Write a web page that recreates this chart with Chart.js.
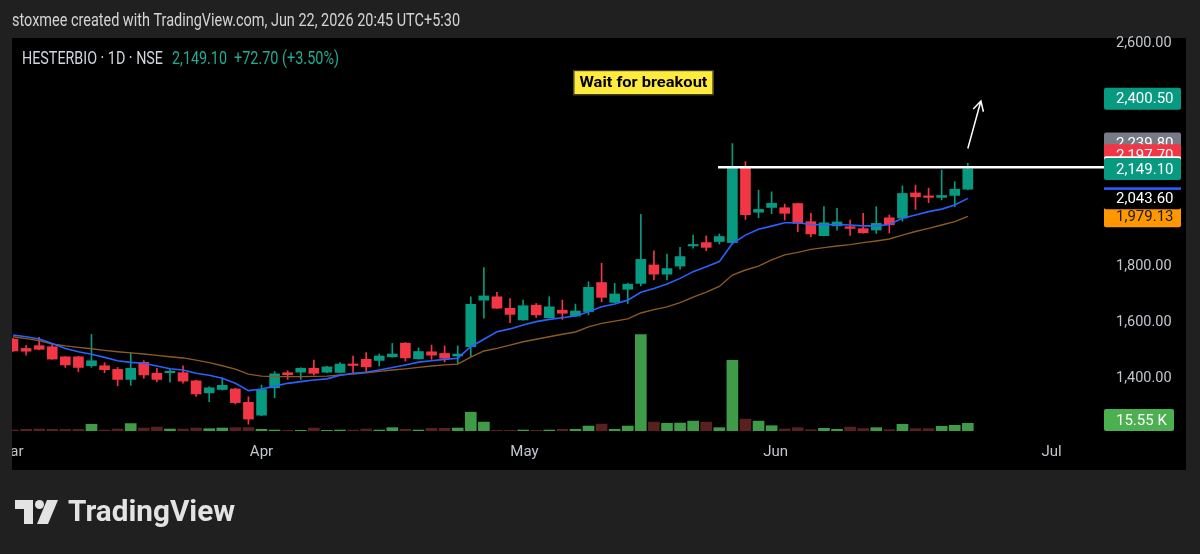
<!DOCTYPE html>
<html>
<head>
<meta charset="utf-8">
<title>HESTERBIO · 1D · NSE</title>
<script src="https://cdn.jsdelivr.net/npm/chart.js@4.4.1/dist/chart.umd.min.js"></script>
<style>
  html, body { margin: 0; padding: 0; background: #202020; overflow: hidden; }
  canvas { display: block; }
</style>
</head>
<body>
<canvas id="chart" width="1200" height="554"></canvas>
<script>
// daily bars, index 0 = first visible bar (mid March), 73 = Jun 22
const opens = [1539, 1506, 1516, 1512, 1476, 1476, 1444, 1444, 1431, 1395,
  1456, 1417, 1419, 1419, 1390, 1347, 1359, 1361, 1313, 1267,
  1365, 1419, 1421, 1435, 1421, 1420, 1450, 1467, 1463, 1476,
  1525, 1469, 1494, 1488, 1479, 1512, 1679, 1691, 1650, 1608,
  1661, 1616, 1643, 1622, 1638, 1742, 1671, 1718, 1739, 1805,
  1772, 1801, 1873, 1885, 1889, 1885, 2155, 1994, 2011, 2010,
  2025, 1960, 1910, 1945, 1942, 1935, 1930, 1974, 1973, 2063,
  2052, 2047, 2054, 2076.4];
const highs = [1542, 1517, 1546, 1520, 1477, 1478, 1556, 1455, 1438, 1491,
  1462, 1435, 1431, 1444, 1392, 1369, 1401, 1363, 1333, 1375,
  1423, 1426, 1437, 1464, 1442, 1455, 1479, 1491, 1486, 1524,
  1527, 1508, 1518, 1515, 1515, 1691, 1796, 1707, 1685, 1679,
  1667, 1691, 1679, 1665, 1745, 1811, 1739, 1740, 1986, 1856,
  1844, 1868, 1912, 1909, 1916, 2239.8, 2175, 2073, 2067, 2023,
  2026, 1990, 2014, 2008, 1966, 1990, 2014, 1984, 2088, 2091,
  2080, 2145, 2103, 2169];
const lows = [1495, 1482, 1502, 1467, 1438, 1423, 1438, 1419, 1372, 1374,
  1399, 1387, 1385, 1382, 1334, 1315, 1357, 1307, 1235, 1265,
  1329, 1395, 1395, 1411, 1419, 1419, 1417, 1420, 1443, 1475,
  1461, 1468, 1467, 1458, 1450, 1476, 1614, 1649, 1598, 1607,
  1617, 1616, 1610, 1621, 1626, 1673, 1670, 1667, 1730, 1751,
  1751, 1790, 1865, 1856, 1880, 1880, 1968, 1974, 1989, 1966,
  1924, 1906, 1909, 1930, 1911, 1919, 1918, 1920, 1962, 2004,
  2028, 2038, 2014, 2074];
const closes = [1497, 1496, 1503, 1468, 1447, 1438, 1462, 1430, 1395, 1435,
  1411, 1395, 1420, 1389, 1343, 1365, 1374, 1312, 1253, 1359,
  1415, 1412, 1435, 1417, 1440, 1450, 1445, 1440, 1479, 1486,
  1472, 1495, 1482, 1471, 1486, 1664, 1694, 1650, 1628, 1659,
  1626, 1655, 1632, 1640, 1725, 1689, 1701, 1736, 1825, 1772,
  1792, 1835, 1877, 1868, 1907, 2151, 1985, 2004, 2026, 1990,
  1954, 1916, 1956, 1959, 1936, 1920, 1954, 1949, 2061, 2049,
  2047, 2054, 2076.4, 2149.1];
// volume in thousands
const volumes = [2, 3.5, 4, 3.5, 3.5, 3.5, 13.5, 2, 4, 15,
  6, 8, 4, 4, 6, 4.7, 6, 6.7, 7, 3.5,
  2, 1.4, 1.4, 6, 1.4, 2, 2, 4, 2, 6.7,
  3.5, 2, 5.4, 5.4, 6, 38, 18, 1.4, 1.4, 2,
  1.4, 2, 3.5, 3.5, 10, 14, 3.5, 10, 195, 18,
  15.5, 16, 20, 18, 6.7, 143, 24, 20, 10.7, 4,
  6.7, 2.7, 5.4, 3.5, 8, 4.7, 6.7, 2.7, 13.5, 4.7,
  4.7, 9.5, 11.5, 15.55];
// moving averages (blue = fast, brown = slow)
const emaFast = [1554, 1548, 1540, 1524, 1506, 1494, 1485, 1474, 1462, 1456,
  1453, 1443, 1433, 1429, 1417, 1410, 1399, 1381, 1355, 1361,
  1371, 1381, 1387, 1393, 1397, 1410, 1417, 1421, 1429, 1438,
  1447, 1457, 1462, 1467, 1471, 1512, 1539, 1566, 1576, 1590,
  1602, 1610, 1616, 1622, 1637, 1655, 1665, 1679, 1707, 1721,
  1737, 1757, 1781, 1799, 1817, 1882, 1912, 1933, 1944, 1956,
  1956, 1950, 1949, 1950, 1948, 1945, 1945, 1950, 1972, 1984,
  1996, 2005, 2020, 2043.6];
const emaSlow = [1548, 1541, 1534, 1522, 1515, 1510, 1505, 1499, 1494, 1490,
  1486, 1481, 1476, 1472, 1464, 1455, 1444, 1432, 1414, 1407,
  1405, 1405, 1405, 1406, 1407, 1411, 1414, 1419, 1424, 1429,
  1433, 1438, 1443, 1447, 1450, 1475, 1497, 1506, 1518, 1530,
  1539, 1548, 1557, 1565, 1583, 1596, 1604, 1612, 1633, 1645,
  1655, 1670, 1690, 1708, 1728, 1769, 1787, 1801, 1823, 1841,
  1850, 1861, 1867, 1873, 1878, 1885, 1891, 1898, 1912, 1925,
  1936, 1948, 1960, 1979.13];

// time axis: month names and the bar index they sit on
const monthLabels = ['Mar', 'Apr', 'May', 'Jun', 'Jul'];
const monthAt = [-0.2, 19, 39.1, 58.3, 79.4];

const priceTicks = [1400, 1600, 1800, 2600];

// tags on the price scale, drawn in this order
const tagValues = [1979.13, 2043.60, 2239.80, 2197.70, 2154.6, 2149.10, 2400.50];
const tagStyles = [
  { bg: '#ff9800', fg: '#1b1b1b' },
  { bg: '#000000', fg: '#ffffff', top: '#2962ff' },
  { bg: '#787b86', fg: '#ffffff' },
  { bg: '#f23645', fg: '#ffffff' },
  { bg: '#ffffff', fg: '#000000' },
  { bg: '#089981', fg: '#ffffff' },
  { bg: '#089981', fg: '#ffffff' }
];

// drawings on the chart
const breakoutLevel = 2154.6;
const breakoutStart = 53.9;
const arrowFrom = [73, 2222];
const arrowTo = [74, 2392];
const noteText = 'Wait for breakout';
const notePos = [48.2, 2458];

const UP = '#089981';
const DOWN = '#f23645';
const VOL_UP = '#3f9b47';
const VOL_DOWN = '#5a1f1f';
const PAGE_BG = '#202020';

function fmt(v) {
  return v.toLocaleString('en-US', { minimumFractionDigits: 2, maximumFractionDigits: 2 });
}

// squeeze/stretch a text run to a given width (screenshot fonts are narrow)
function fitText(ctx, text, x, y, w) {
  const m = ctx.measureText(text).width;
  ctx.save();
  ctx.translate(x, y);
  ctx.scale(w / m, 1);
  ctx.fillText(text, 0, 0);
  ctx.restore();
}

function drawTag(ctx, y, text, st, width) {
  const x = 1104, h = 22;
  ctx.fillStyle = st.bg;
  ctx.beginPath();
  ctx.roundRect(x, y - h / 2, width, h, 2);
  ctx.fill();
  if (st.top) {
    ctx.fillStyle = st.top;
    ctx.fillRect(x, y - h / 2, width, 2.5);
  }
  ctx.fillStyle = st.fg;
  ctx.font = '15px Roboto';
  ctx.textAlign = 'left';
  ctx.textBaseline = 'middle';
  ctx.fillText(text, 1116, y + 1);
}

const decor = {
  id: 'decor',
  beforeDraw(chart) {
    const ctx = chart.ctx;
    ctx.save();
    ctx.fillStyle = PAGE_BG;
    ctx.fillRect(0, 0, chart.width, chart.height);
    ctx.fillStyle = '#000000';
    ctx.fillRect(0, 38, 1186, 432);
    ctx.restore();
  },
  afterDraw(chart) {
    const ctx = chart.ctx;
    const xs = chart.scales.x, ys = chart.scales.y, yv = chart.scales.yv;
    ctx.save();

    // page edge on the left of the panel
    ctx.fillStyle = PAGE_BG;
    ctx.fillRect(0, 38, 12, 432);

    // header
    ctx.textBaseline = 'middle';
    ctx.textAlign = 'left';
    ctx.fillStyle = '#d4d4d4';
    ctx.font = '17.5px Roboto';
    fitText(ctx, 'stoxmee created with TradingView.com, Jun 22, 2026 20:45 UTC+5:30', 12, 22, 448);

    // symbol line
    const last = closes.length - 1;
    const chg = closes[last] - closes[last - 1];
    ctx.font = '18px Roboto';
    ctx.fillStyle = '#d1d4dc';
    fitText(ctx, 'HESTERBIO · 1D · NSE', 22, 59, 141);
    ctx.fillStyle = '#22ab94';
    fitText(ctx, fmt(closes[last]), 172, 59, 55);
    fitText(ctx, '+' + chg.toFixed(2) + ' (+' + (chg / closes[last - 1] * 100).toFixed(2) + '%)', 234, 59, 105);

    // note box
    const nx = xs.getPixelForValue(notePos[0]);
    const ny = ys.getPixelForValue(notePos[1]);
    ctx.fillStyle = '#ffeb3b';
    ctx.fillRect(nx - 70, ny - 12.5, 140, 25);
    ctx.strokeStyle = '#222';
    ctx.lineWidth = 1;
    ctx.strokeRect(nx - 69.5, ny - 12, 139, 24);
    ctx.fillStyle = '#000000';
    ctx.font = 'bold 15px Roboto';
    ctx.textAlign = 'left';
    fitText(ctx, noteText, nx - 64, ny + 1, 128);

    // arrow towards the target
    const ax0 = xs.getPixelForValue(arrowFrom[0]), ay0 = ys.getPixelForValue(arrowFrom[1]);
    const ax1 = xs.getPixelForValue(arrowTo[0]), ay1 = ys.getPixelForValue(arrowTo[1]);
    const ang = Math.atan2(ay1 - ay0, ax1 - ax0);
    ctx.strokeStyle = '#ffffff';
    ctx.lineWidth = 1.5;
    ctx.beginPath();
    ctx.moveTo(ax0, ay0);
    ctx.lineTo(ax1, ay1);
    ctx.moveTo(ax1 - 11 * Math.cos(ang - 0.5), ay1 - 11 * Math.sin(ang - 0.5));
    ctx.lineTo(ax1, ay1);
    ctx.lineTo(ax1 - 11 * Math.cos(ang + 0.5), ay1 - 11 * Math.sin(ang + 0.5));
    ctx.stroke();

    // price scale tags
    tagValues.forEach((v, i) => {
      drawTag(ctx, ys.getPixelForValue(v), fmt(v), tagStyles[i], 77);
    });
    const vy = Math.min(yv.getPixelForValue(volumes[last]), 420);
    drawTag(ctx, vy, volumes[last].toFixed(2) + ' K', { bg: '#4caf50', fg: '#ffffff' }, 70);

    // TradingView logo
    ctx.fillStyle = '#e3e3e3';
    ctx.beginPath();
    ctx.moveTo(15, 500); ctx.lineTo(33, 500); ctx.lineTo(33, 524);
    ctx.lineTo(24, 524); ctx.lineTo(24, 509); ctx.lineTo(15, 509);
    ctx.closePath();
    ctx.fill();
    ctx.beginPath();
    ctx.arc(39.5, 504.5, 4.5, 0, Math.PI * 2);
    ctx.fill();
    ctx.beginPath();
    ctx.moveTo(47, 500); ctx.lineTo(58, 500); ctx.lineTo(48, 524); ctx.lineTo(37, 524);
    ctx.closePath();
    ctx.fill();
    ctx.font = 'bold 30px Roboto';
    ctx.textBaseline = 'middle';
    fitText(ctx, 'TradingView', 68, 513, 167);

    ctx.restore();
  }
};

const bars = closes.map((c, i) => i);
const candleColors = bars.map(i => closes[i] >= opens[i] ? UP : DOWN);
const volColors = bars.map(i => closes[i] >= opens[i] ? VOL_UP : VOL_DOWN);

new Chart(document.getElementById('chart'), {
  type: 'bar',
  data: {
    datasets: [
      {
        type: 'line',
        label: 'Breakout',
        data: [{ x: breakoutStart, y: breakoutLevel }, { x: 83.6, y: breakoutLevel }],
        borderColor: '#ffffff',
        borderWidth: 2.5,
        pointRadius: 0,
        clip: { left: 0, top: 0, right: 10, bottom: 0 },
        order: 0
      },
      {
        type: 'line',
        label: 'EMA fast',
        data: bars.map(i => ({ x: i, y: emaFast[i] })),
        borderColor: '#2962ff',
        borderWidth: 1.6,
        pointRadius: 0,
        order: 1
      },
      {
        type: 'line',
        label: 'EMA slow',
        data: bars.map(i => ({ x: i, y: emaSlow[i] })),
        borderColor: '#8d5a24',
        borderWidth: 1.4,
        pointRadius: 0,
        order: 2
      },
      {
        label: 'Body',
        data: bars.map(i => ({ x: i, y: [opens[i], closes[i]] })),
        backgroundColor: candleColors,
        barThickness: 10,
        minBarLength: 1.5,
        grouped: false,
        order: 3
      },
      {
        label: 'Wick',
        data: bars.map(i => ({ x: i, y: [lows[i], highs[i]] })),
        backgroundColor: candleColors,
        barThickness: 1,
        grouped: false,
        order: 4
      },
      {
        label: 'Volume',
        yAxisID: 'yv',
        data: bars.map(i => ({ x: i, y: volumes[i] })),
        backgroundColor: volColors,
        barThickness: 11,
        grouped: false,
        order: 5
      }
    ]
  },
  options: {
    responsive: false,
    animation: false,
    devicePixelRatio: 1,
    layout: { padding: { left: 0, right: 14, top: 38, bottom: 84 } },
    plugins: {
      legend: { display: false },
      tooltip: { enabled: false }
    },
    scales: {
      x: {
        type: 'linear',
        min: -0.994,
        max: 82.8,
        offset: false,
        grid: { display: false, drawTicks: false },
        border: { display: false },
        afterBuildTicks: s => { s.ticks = monthAt.map(v => ({ value: v })); },
        afterFit: s => { s.height = 39; s.paddingLeft = 0; s.paddingRight = 0; },
        ticks: {
          autoSkip: false,
          maxRotation: 0,
          padding: 12,
          color: '#c3c6ce',
          font: { family: 'Roboto', size: 15 },
          callback: (v, i) => monthLabels[i]
        }
      },
      y: {
        type: 'linear',
        position: 'right',
        min: 1210.3,
        max: 2617.9,
        grid: { display: false, drawTicks: false },
        border: { display: false },
        afterBuildTicks: s => { s.ticks = priceTicks.map(v => ({ value: v })); },
        afterFit: s => { s.width = 90; s.paddingTop = 0; s.paddingBottom = 0; },
        ticks: {
          padding: 20,
          color: '#c3c6ce',
          font: { family: 'Roboto', size: 14.5 },
          callback: v => fmt(v)
        }
      },
      yv: {
        type: 'linear',
        display: false,
        min: 0,
        max: 794
      }
    }
  },
  plugins: [decor]
});
</script>
</body>
</html>
